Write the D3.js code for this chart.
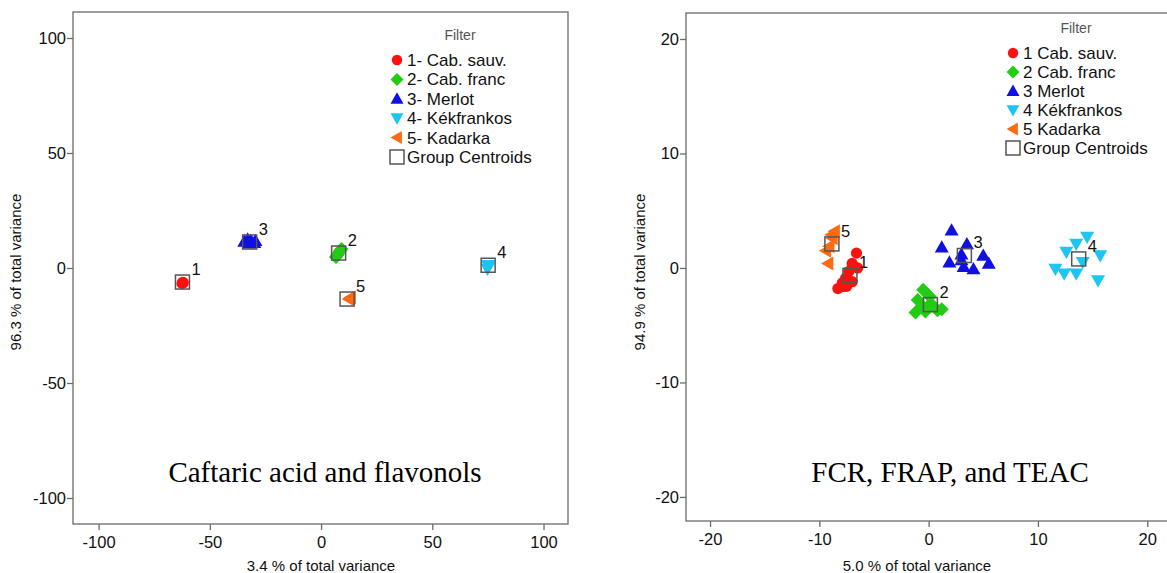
<!DOCTYPE html>
<html>
<head>
<meta charset="utf-8">
<script src="https://cdn.jsdelivr.net/npm/d3@7"></script>
<style>
  body { margin: 0; background: #fff; }
  svg { display: block; font-family: "Liberation Sans", Arial, sans-serif; }
</style>
</head>
<body>
<div id="chart"></div>
<script>
// data
const leftLabels = ["1- Cab. sauv.", "2- Cab. franc", "3- Merlot", "4- Kékfrankos", "5- Kadarka"];
const rightLabels = ["1 Cab. sauv.", "2 Cab. franc", "3 Merlot", "4 Kékfrankos", "5 Kadarka"];
const groupColors = ["#ff1010", "#22cc11", "#1010e0", "#1ec4f2", "#ff6a13"];
const groupShapes = ["circle", "diamond", "up", "down", "left"];

const leftTicks = [-100, -50, 0, 50, 100];
const rightTicks = [-20, -10, 0, 10, 20];

// [group, x, y]
const leftPoints = [
  [0, -62.2, -6.2], [0, -62.5, -6.7], [0, -61.9, -6.4],
  [1, 6.7, 4.8], [1, 7.2, 5.5], [1, 7.6, 6.1], [1, 8.5, 7.4], [1, 9.2, 8.3],
  [2, -34.5, 11.5], [2, -33, 12.5], [2, -31.5, 12], [2, -30, 11], [2, -32.5, 10.8], [2, -29.5, 11.8],
  [3, 75, 1.2], [3, 75.3, 0.6], [3, 74.8, -0.4],
  [4, 12.8, -13.2], [4, 13.3, -12.8], [4, 12.5, -13.6]
];
const leftCentroids = [[-62.3, -6.1], [7.9, 6.5], [-32.1, 11.3], [75.1, 1.2], [11.7, -13.5]];

const rightPoints = [
  [0, -6.6, 1.3], [0, -7.0, 0.4], [0, -6.5, 0.0], [0, -7.3, -0.3], [0, -7.6, -0.9],
  [0, -7.9, -1.3], [0, -8.3, -1.8], [0, -7.8, -1.6], [0, -7.0, -1.2], [0, -7.5, -1.6],
  [1, -0.5, -1.9], [1, -1.0, -2.8], [1, 0.1, -2.5], [1, -1.2, -3.9], [1, -0.3, -3.8],
  [1, 0.8, -3.7], [1, 1.2, -3.6], [1, 0.2, -3.1], [1, -0.6, -3.3],
  [2, 2.1, 3.3], [2, 1.2, 1.8], [2, 3.5, 2.1], [2, 1.9, 0.5], [2, 3.0, 0.7],
  [2, 3.2, 0.1], [2, 4.1, -0.1], [2, 5.0, 1.1], [2, 5.5, 0.4], [2, 3.0, 1.2],
  [3, 14.5, 2.7], [3, 13.5, 2.1], [3, 12.6, 1.4], [3, 15.7, 1.1], [3, 11.6, -0.1],
  [3, 12.4, -0.5], [3, 13.5, -0.5], [3, 14.1, 0.5], [3, 15.5, -1.1],
  [4, -8.6, 3.2], [4, -8.8, 2.6], [4, -9.1, 1.9], [4, -9.4, 1.5], [4, -9.2, 0.4], [4, -8.9, 2.9]
];
const rightCentroids = [[-7.2, -0.65], [0.16, -3.2], [3.27, 1.09], [13.73, 0.79], [-8.85, 2.1]];

const W = 1167, H = 573;
const svg = d3.select("#chart").append("svg")
  .attr("width", W).attr("height", H);

function shapePath(kind, s) {
  // s = half size of the marker
  let pts;
  if (kind === "diamond") pts = [[0, -s], [s, 0], [0, s], [-s, 0]];
  if (kind === "up") pts = [[0, -s], [s, s * 0.75], [-s, s * 0.75]];
  if (kind === "down") pts = [[0, s], [s, -s * 0.75], [-s, -s * 0.75]];
  if (kind === "left") pts = [[-s, 0], [s * 0.75, -s], [s * 0.75, s]];
  return "M" + pts.map(p => p.join(",")).join("L") + "Z";
}

function drawMarker(g, kind, color, cx, cy, s) {
  if (kind === "circle") {
    g.append("circle").attr("cx", cx).attr("cy", cy).attr("r", s * 0.8).attr("fill", color);
  } else {
    g.append("path").attr("d", shapePath(kind, s))
      .attr("transform", `translate(${cx},${cy})`).attr("fill", color);
  }
}

function panel(opt) {
  const g = svg.append("g");
  const x = d3.scaleLinear().domain(opt.xDomain).range(opt.xRange);
  const y = d3.scaleLinear().domain(opt.yDomain).range(opt.yRange);

  // frame
  g.append("rect")
    .attr("x", opt.xRange[0]).attr("y", opt.yRange[1])
    .attr("width", opt.xRange[1] - opt.xRange[0])
    .attr("height", opt.yRange[0] - opt.yRange[1])
    .attr("fill", "none").attr("stroke", "#6a6a6a").attr("stroke-width", 1.3);

  const xAxis = g.append("g")
    .attr("transform", `translate(0,${opt.yRange[0]})`)
    .call(d3.axisBottom(x).tickValues(opt.ticks).tickSize(6).tickPadding(6));
  const yAxis = g.append("g")
    .attr("transform", `translate(${opt.xRange[0]},0)`)
    .call(d3.axisLeft(y).tickValues(opt.ticks).tickSize(6).tickPadding(1));
  [xAxis, yAxis].forEach(a => {
    a.select(".domain").remove();
    a.selectAll(".tick line").attr("stroke", "#6a6a6a").attr("stroke-width", 1.3);
    a.selectAll(".tick text").attr("font-size", 16.5).attr("fill", "#111")
      .attr("font-family", "Liberation Sans, Arial, sans-serif")
      .text(d => d < 0 ? "-" + Math.abs(d) : d);
  });

  // axis titles
  g.append("text")
    .attr("x", opt.xRange[0] + opt.xLabelCenter).attr("y", 571)
    .attr("text-anchor", "middle").attr("font-size", 15).attr("fill", "#111")
    .text(opt.xTitle);
  g.append("text")
    .attr("transform", `translate(${opt.yLabelX},272) rotate(-90)`)
    .attr("text-anchor", "middle").attr("font-size", 15).attr("fill", "#111")
    .text(opt.yTitle);

  // title inside plot
  g.append("text")
    .attr("x", opt.titleX).attr("y", 482)
    .attr("text-anchor", "middle")
    .attr("font-family", "Liberation Serif, Times New Roman, serif")
    .attr("font-size", 29).attr("fill", "#000")
    .text(opt.title);

  // points
  const pts = g.append("g");
  opt.points.forEach(p => {
    drawMarker(pts, groupShapes[p[0]], groupColors[p[0]], x(p[1]), y(p[2]), 7);
  });

  // centroids
  const cg = g.append("g");
  opt.centroids.forEach((c, i) => {
    cg.append("rect")
      .attr("x", x(c[0]) - 7).attr("y", y(c[1]) - 7)
      .attr("width", 14).attr("height", 14)
      .attr("fill", "none").attr("stroke", "#555").attr("stroke-width", 1.5);
    cg.append("text")
      .attr("x", x(c[0]) + 9).attr("y", y(c[1]) - 7)
      .attr("font-size", 16.5).attr("fill", "#111")
      .text(i + 1);
  });

  // legend
  const lg = g.append("g");
  lg.append("text")
    .attr("x", opt.legX + 63).attr("y", opt.legY - 20)
    .attr("text-anchor", "middle").attr("font-size", 14).attr("fill", "#555")
    .text("Filter");
  opt.labels.forEach((lab, i) => {
    const yy = opt.legY + i * opt.legStep;
    drawMarker(lg, groupShapes[i], groupColors[i], opt.legX, yy, 6.5);
    lg.append("text")
      .attr("x", opt.legX + 10).attr("y", yy + 6)
      .attr("font-size", 17).attr("fill", "#111")
      .text(lab);
  });
  const yy = opt.legY + 5 * opt.legStep;
  lg.append("rect")
    .attr("x", opt.legX - 7).attr("y", yy - 7)
    .attr("width", 14).attr("height", 14)
    .attr("fill", "none").attr("stroke", "#555").attr("stroke-width", 1.5);
  lg.append("text")
    .attr("x", opt.legX + 10).attr("y", yy + 6)
    .attr("font-size", 17).attr("fill", "#111")
    .text("Group Centroids");
}

panel({
  xDomain: [-111.5, 111], xRange: [73, 568],
  yDomain: [-111.3, 111.3], yRange: [524, 12],
  ticks: leftTicks,
  xTitle: "3.4 % of total variance", xLabelCenter: 248,
  yTitle: "96.3 % of total variance", yLabelX: 21,
  title: "Caftaric acid and flavonols", titleX: 325,
  points: leftPoints, centroids: leftCentroids,
  labels: leftLabels, legX: 397, legY: 60, legStep: 19.4
});

panel({
  xDomain: [-22.2, 21.9], xRange: [686, 1168],
  yDomain: [-22.1, 22.27], yRange: [521, 13],
  ticks: rightTicks,
  xTitle: "5.0 % of total variance", xLabelCenter: 231,
  yTitle: "94.9 % of total variance", yLabelX: 645,
  title: "FCR, FRAP, and TEAC", titleX: 950,
  points: rightPoints, centroids: rightCentroids,
  labels: rightLabels, legX: 1013, legY: 53, legStep: 19
});
</script>
</body>
</html>
